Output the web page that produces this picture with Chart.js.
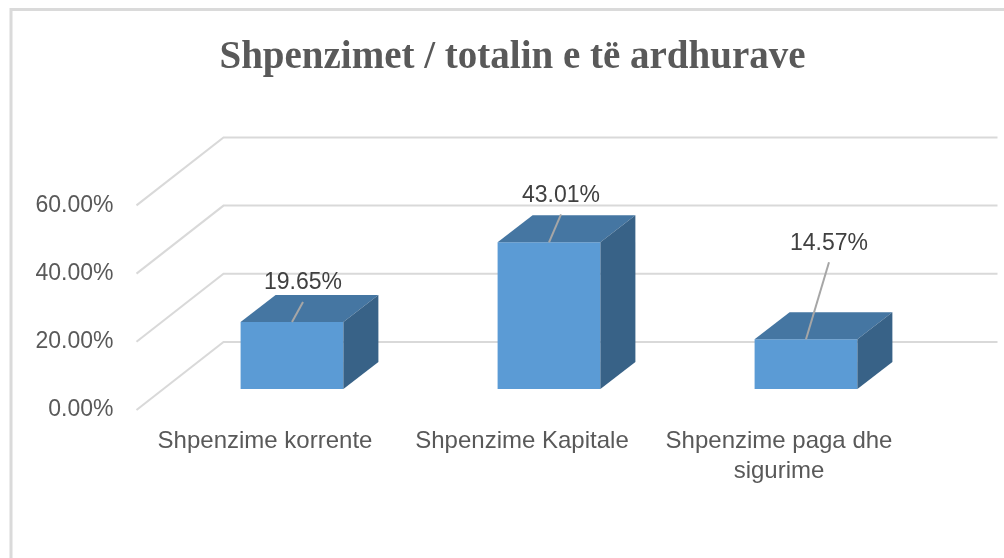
<!DOCTYPE html>
<html>
<head>
<meta charset="utf-8">
<script src="https://cdn.jsdelivr.net/npm/chart.js@4.4.1/dist/chart.umd.min.js"></script>
<style>
  html, body { margin: 0; padding: 0; background: #fff; }
  #chart { display: block; }
</style>
</head>
<body>
<canvas id="chart" width="1004" height="558"></canvas>
<script>
// data
var categories = ['Shpenzime korrente', 'Shpenzime Kapitale', ['Shpenzime paga dhe', 'sigurime']];
var shares = [19.65, 43.01, 14.57];
var tickValues = [0, 20, 40, 60];

// look
var sansFont = "'Liberation Sans Narrow', 'Liberation Sans', sans-serif";
var gridColor = '#d9d9d9';
var frontColor = '#5b9bd5';
var topColor = '#4576a2';
var sideColor = '#386287';
// 3d offsets (px) from the bar front plane
var barDepth = { x: 35, y: -27 };
var wallFront = { x: -27, y: 21 };
var wallBack = { x: 60, y: -47 };
// where each value label sits, relative to the bar's front top centre
var labelShift = [[11, -39], [12, -47], [23, -96]];

function pct(v) { return Number(v).toFixed(2) + '%'; }

var fake3d = {
  id: 'fake3d',
  beforeDraw: function(chart) {
    var c = chart.ctx;
    c.save();
    c.fillStyle = '#fff';
    c.fillRect(0, 0, chart.width, chart.height);
    // outer frame
    c.strokeStyle = '#dadada';
    c.lineWidth = 3;
    c.beginPath();
    c.moveTo(11, chart.height);
    c.lineTo(11, 9.5);
    c.lineTo(chart.width, 9.5);
    c.stroke();
    c.restore();
  },
  beforeDatasetsDraw: function(chart) {
    var c = chart.ctx, y = chart.scales.y, a = chart.chartArea;
    c.save();
    c.strokeStyle = gridColor;
    c.lineWidth = 2;
    tickValues.forEach(function(v) {
      var py = y.getPixelForValue(v);
      c.beginPath();
      c.moveTo(a.left + wallFront.x, py + wallFront.y);
      c.lineTo(a.left + wallBack.x, py + wallBack.y);
      c.lineTo(a.right + wallBack.x + 3, py + wallBack.y);
      c.stroke();
    });
    c.restore();
  },
  afterDatasetsDraw: function(chart) {
    var c = chart.ctx;
    var meta = chart.getDatasetMeta(0);
    c.save();
    meta.data.forEach(function(bar, i) {
      var left = bar.x - bar.width / 2, right = bar.x + bar.width / 2;
      var top = bar.y, bottom = bar.base;
      // top face
      c.fillStyle = topColor;
      c.beginPath();
      c.moveTo(left, top);
      c.lineTo(left + barDepth.x, top + barDepth.y);
      c.lineTo(right + barDepth.x, top + barDepth.y);
      c.lineTo(right, top);
      c.closePath();
      c.fill();
      // side face
      c.fillStyle = sideColor;
      c.beginPath();
      c.moveTo(right, top);
      c.lineTo(right + barDepth.x, top + barDepth.y);
      c.lineTo(right + barDepth.x, bottom + barDepth.y);
      c.lineTo(right, bottom);
      c.closePath();
      c.fill();
      // label + leader line
      var lx = bar.x + labelShift[i][0], ly = top + labelShift[i][1];
      c.strokeStyle = '#a6a6a6';
      c.lineWidth = 2;
      c.beginPath();
      c.moveTo(lx, ly + 19);
      c.lineTo(bar.x, top);
      c.stroke();
      c.fillStyle = '#404040';
      c.font = '23px ' + sansFont;
      c.textAlign = 'center';
      c.textBaseline = 'middle';
      c.fillText(pct(shares[i]), lx, ly);
    });
    c.restore();
  }
};

var ctx = document.getElementById('chart');
var chart = new Chart(ctx, {
  type: 'bar',
  data: {
    labels: categories,
    datasets: [{
      data: shares,
      backgroundColor: frontColor,
      categoryPercentage: 1,
      barPercentage: 0.4
    }]
  },
  options: {
    responsive: false,
    animation: false,
    layout: { padding: { left: 21, right: 0, top: 0, bottom: 0 } },
    plugins: {
      legend: { display: false },
      tooltip: { enabled: false },
      title: {
        display: true,
        text: 'Shpenzimet / totalin e të ardhurave',
        color: '#595959',
        font: { family: "'Liberation Serif', serif", size: 39, weight: 'bold', lineHeight: 1.2 },
        padding: { top: 35, bottom: 102.6 }
      }
    },
    scales: {
      x: {
        grid: { display: false, drawTicks: false },
        border: { display: false },
        ticks: {
          color: '#595959',
          font: { family: sansFont, size: 24, lineHeight: '30px' },
          padding: 37,
          labelOffset: -27,
          maxRotation: 0,
          autoSkip: false
        },
        afterFit: function(s) { s.height = 169; }
      },
      y: {
        min: 0,
        max: 60,
        grid: { display: false, drawTicks: false },
        border: { display: false },
        ticks: {
          stepSize: 20,
          color: '#595959',
          font: { family: sansFont, size: 23 },
          padding: 50,
          labelOffset: 21,
          callback: function(v) { return pct(v); }
        },
        afterFit: function(s) { s.width = 142.5; }
      },
      y2: {
        position: 'right',
        grid: { display: false, drawTicks: false },
        border: { display: false },
        ticks: { display: false },
        afterFit: function(s) { s.width = 69.5; }
      }
    }
  },
  plugins: [fake3d]
});
</script>
</body>
</html>
